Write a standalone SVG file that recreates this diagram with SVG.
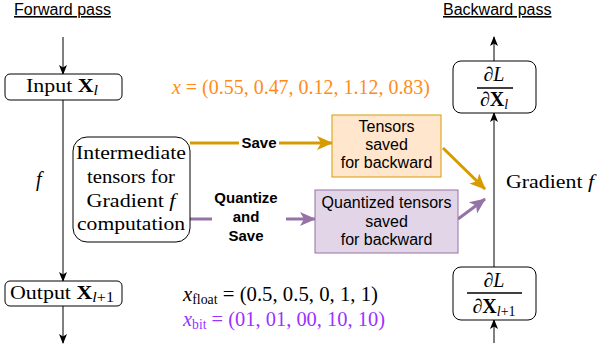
<svg xmlns="http://www.w3.org/2000/svg" width="599" height="348" viewBox="0 0 599 348">
<style>
.box{fill:#fff;stroke:#000;stroke-width:1}
.serif{font-family:"Liberation Serif","DejaVu Serif",serif;fill:#000}
.sans{font-family:"Liberation Sans",Arial,sans-serif;fill:#000}
.it{font-style:italic}
.bf{font-weight:bold}
.ln{stroke:#000;stroke-width:1;fill:none}
.or{stroke:#d79b00;stroke-width:3;fill:none}
.pu{stroke:#9673a6;stroke-width:3;fill:none}
</style>
<defs>
<marker id="ab" markerUnits="userSpaceOnUse" markerWidth="10" markerHeight="10" viewBox="0 0 10 10" refX="9" refY="5" orient="auto">
<path d="M0,1 L10,5 L0,9 L2.5,5 z" fill="#000"/>
</marker>
<marker id="ao" markerUnits="userSpaceOnUse" markerWidth="16" markerHeight="16" viewBox="0 0 16 16" refX="15" refY="8" orient="auto">
<path d="M0,1 L16,8 L0,15 L4,8 z" fill="#d79b00"/>
</marker>
<marker id="ap" markerUnits="userSpaceOnUse" markerWidth="16" markerHeight="16" viewBox="0 0 16 16" refX="15" refY="8" orient="auto">
<path d="M0,1 L16,8 L0,15 L4,8 z" fill="#9673a6"/>
</marker>
</defs>

<g id="titles">
<text class="sans" x="14" y="15" font-size="16" text-decoration="underline">Forward pass</text>
<text class="sans" x="443" y="15" font-size="16" text-decoration="underline">Backward pass</text>
</g>

<g id="connectors">
<line class="ln" x1="63" y1="37" x2="63" y2="74" marker-end="url(#ab)"/>
<line class="ln" x1="63" y1="100" x2="63" y2="281" marker-end="url(#ab)"/>
<line class="ln" x1="63" y1="306" x2="63" y2="343" marker-end="url(#ab)"/>
<line class="ln" x1="494" y1="61" x2="494" y2="37" marker-end="url(#ab)"/>
<line class="ln" x1="494" y1="267" x2="494" y2="113" marker-end="url(#ab)"/>
<line class="ln" x1="494" y1="343" x2="494" y2="320" marker-end="url(#ab)"/>
<line class="or" x1="190" y1="143" x2="332" y2="143" marker-end="url(#ao)"/>
<line class="pu" x1="190" y1="219" x2="212" y2="219"/>
<line class="pu" x1="286" y1="219" x2="315" y2="219" marker-end="url(#ap)"/>
<line class="or" x1="443" y1="148" x2="485" y2="189" marker-end="url(#ao)"/>
<line class="pu" x1="458" y1="219" x2="485" y2="199" marker-end="url(#ap)"/>
<rect x="239" y="132" width="40" height="20" fill="#fff"/>
<text class="sans bf" x="259" y="148" font-size="15" text-anchor="middle">Save</text>
<text class="sans bf" x="246" y="203" font-size="15" text-anchor="middle">Quantize</text>
<text class="sans bf" x="246" y="222" font-size="15" text-anchor="middle">and</text>
<text class="sans bf" x="246" y="241" font-size="15" text-anchor="middle">Save</text>
<text class="serif it" x="36" y="186" font-size="20">f</text>
<text class="serif" x="506" y="188" font-size="19" textLength="88" lengthAdjust="spacingAndGlyphs">Gradient <tspan class="it">f</tspan></text>
</g>

<g id="input">
<rect class="box" x="5" y="74" width="117" height="26" rx="5"/>
<text class="serif" x="26" y="92" font-size="19" textLength="72" lengthAdjust="spacingAndGlyphs">Input <tspan class="bf">X</tspan><tspan class="it" font-size="14" dy="3">l</tspan></text>
</g>

<g id="output">
<rect class="box" x="5" y="281" width="117" height="25" rx="5"/>
<text class="serif" x="10" y="299" font-size="19" textLength="104" lengthAdjust="spacingAndGlyphs">Output <tspan class="bf">X</tspan><tspan class="it" font-size="14" dy="3">l</tspan><tspan font-size="14">+1</tspan></text>
</g>

<g id="intermediate">
<rect class="box" x="73" y="137" width="117" height="105" rx="14"/>
<text class="serif" x="131" y="159" font-size="19" text-anchor="middle" textLength="110" lengthAdjust="spacingAndGlyphs">Intermediate</text>
<text class="serif" x="131" y="183" font-size="19" text-anchor="middle" textLength="88" lengthAdjust="spacingAndGlyphs">tensors for</text>
<text class="serif" x="131" y="207" font-size="19" text-anchor="middle" textLength="89" lengthAdjust="spacingAndGlyphs">Gradient <tspan class="it">f</tspan></text>
<text class="serif" x="131" y="230" font-size="19" text-anchor="middle" textLength="108" lengthAdjust="spacingAndGlyphs">computation</text>
</g>

<g id="tensors-saved">
<rect x="332" y="115" width="109" height="62" fill="#ffe6cc" stroke="#d79b00" stroke-width="1"/>
<text class="sans" x="386.5" y="132" font-size="16" text-anchor="middle">Tensors</text>
<text class="sans" x="386.5" y="150" font-size="16" text-anchor="middle">saved</text>
<text class="sans" x="386.5" y="168" font-size="16" text-anchor="middle">for backward</text>
</g>

<g id="quantized-saved">
<rect x="315" y="190" width="143" height="63" fill="#e1d5e7" stroke="#9673a6" stroke-width="1"/>
<text class="sans" x="386.5" y="208" font-size="16" text-anchor="middle">Quantized tensors</text>
<text class="sans" x="386.5" y="227" font-size="16" text-anchor="middle">saved</text>
<text class="sans" x="386.5" y="245" font-size="16" text-anchor="middle">for backward</text>
</g>

<g id="grad-l">
<rect class="box" x="453" y="61" width="83" height="52" rx="8"/>
<text class="serif" x="494" y="81" font-size="20" text-anchor="middle"><tspan class="it">∂L</tspan></text>
<line x1="477" y1="88" x2="513" y2="88" stroke="#000" stroke-width="1.5"/>
<text class="serif" x="494" y="106" font-size="20" text-anchor="middle"><tspan class="it">∂</tspan><tspan class="bf">X</tspan><tspan class="it" font-size="14" dy="3">l</tspan></text>
</g>

<g id="grad-l1">
<rect class="box" x="453" y="267" width="83" height="53" rx="8"/>
<text class="serif" x="494" y="287" font-size="20" text-anchor="middle"><tspan class="it">∂L</tspan></text>
<line x1="467" y1="293" x2="522" y2="293" stroke="#000" stroke-width="1.5"/>
<text class="serif" x="494" y="313" font-size="20" text-anchor="middle"><tspan class="it">∂</tspan><tspan class="bf">X</tspan><tspan class="it" font-size="14" dy="3">l</tspan><tspan font-size="14">+1</tspan></text>
</g>

<g id="formulas">
<text class="serif" x="172" y="94" font-size="21" style="fill:#ff8c1a" textLength="258" lengthAdjust="spacingAndGlyphs"><tspan class="it">x</tspan> = (0.55, 0.47, 0.12, 1.12, 0.83)</text>
<text class="serif" x="183" y="301" font-size="21" textLength="195" lengthAdjust="spacingAndGlyphs"><tspan class="it">x</tspan><tspan font-size="14" dy="3">float</tspan><tspan dy="-3"> = (0.5, 0.5, 0, 1, 1)</tspan></text>
<text class="serif" x="183" y="326" font-size="21" style="fill:#9933ff" textLength="202" lengthAdjust="spacingAndGlyphs"><tspan class="it">x</tspan><tspan font-size="14" dy="3">bit</tspan><tspan dy="-3"> = (01, 01, 00, 10, 10)</tspan></text>
</g>
</svg>
